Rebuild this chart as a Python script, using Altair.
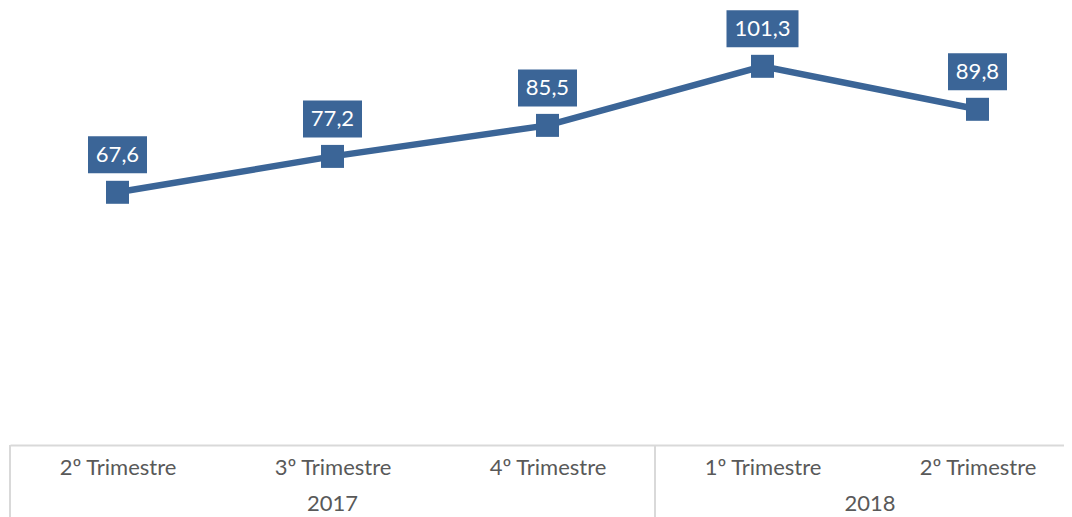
import altair as alt
import pandas as pd

quarters = ["2º Trimestre", "3º Trimestre", "4º Trimestre", "1º Trimestre", "2º Trimestre"]
years = ["2017", "2017", "2017", "2018", "2018"]
values = [67.6, 77.2, 85.5, 101.3, 89.8]

idx = list(range(len(values)))
df = pd.DataFrame({"i": idx, "quarter": quarters, "year": years, "value": values})
df["label"] = [f"{v:.1f}".replace(".", ",") for v in values]
df["nchar"] = df["label"].str.len()

BLUE = "#3B6597"
GRAY = "#D9D9D9"
TXT = "#595959"
FONT = "Lato"

W = 1054
STEP = 215
x_scale = alt.Scale(domain=[-0.5, -0.5 + W / STEP], nice=False, zero=False)
y_scale = alt.Scale(domain=[0, 116.9], nice=False, zero=True)

label_array = "[" + ",".join("'" + q + "'" for q in quarters) + "]"

x_axis = alt.X(
    "i:Q",
    scale=x_scale,
    title=None,
    axis=alt.Axis(
        values=idx,
        labelExpr=label_array + "[datum.value]",
        labelAngle=0,
        labelFont=FONT,
        labelFontSize=22,
        labelColor=TXT,
        labelBaseline="middle",
        labelPadding=22,
        labelFlush=False,
        labelOverlap=False,
        ticks=False,
        tickSize=0,
        domainColor=GRAY,
        domainWidth=2,
        grid=False,
    ),
)
x_enc = alt.X("i:Q", scale=x_scale)
y_enc = alt.Y("value:Q", scale=y_scale, axis=None)

base = alt.Chart(df)

line = base.mark_line(color=BLUE, strokeWidth=6.5).encode(x=x_axis, y=y_enc)
pts = base.mark_point(shape="square", filled=True, size=529, color=BLUE, opacity=1).encode(
    x=x_enc, y=y_enc
)

box4 = base.transform_filter("datum.nchar == 4").mark_rect(
    color=BLUE, xOffset=-29.5, x2Offset=29.5, yOffset=-56, y2Offset=-19
).encode(x=x_enc, x2="i:Q", y=y_enc, y2="value:Q")
box5 = base.transform_filter("datum.nchar == 5").mark_rect(
    color=BLUE, xOffset=-36, x2Offset=36, yOffset=-56, y2Offset=-19
).encode(x=x_enc, x2="i:Q", y=y_enc, y2="value:Q")

labels = base.mark_text(
    color="white", font=FONT, fontSize=22, baseline="middle", align="center", dy=-37.5
).encode(x=x_enc, y=y_enc, text="label:N")

# year groups: separators at group start, year label at group centre
groups = []
for yr in dict.fromkeys(years):
    members = [k for k, y in zip(idx, years) if y == yr]
    groups.append({"year": yr, "start": members[0] - 0.5, "center": (members[0] + members[-1]) / 2})
gdf = pd.DataFrame(groups)

seps = alt.Chart(gdf).mark_rule(color=GRAY, strokeWidth=2).encode(
    x=alt.X("start:Q", scale=x_scale),
    y=alt.value(437),
    y2=alt.value(540),
)
year_txt = alt.Chart(gdf).mark_text(
    font=FONT, fontSize=22, color=TXT, baseline="middle", align="center"
).encode(
    x=alt.X("center:Q", scale=x_scale),
    y=alt.value(496),
    text="year:N",
)

chart = alt.layer(line, pts, box4, box5, labels, seps, year_txt).properties(
    width=W,
    height=437,
    background="white",
    autosize=alt.AutoSizeParams(type="none"),
    padding={"left": 2, "top": 0, "right": 0, "bottom": 72},
).configure_view(stroke=None, strokeWidth=0)

chart.save("out.html", embed_options={"renderer": "svg", "actions": False})
